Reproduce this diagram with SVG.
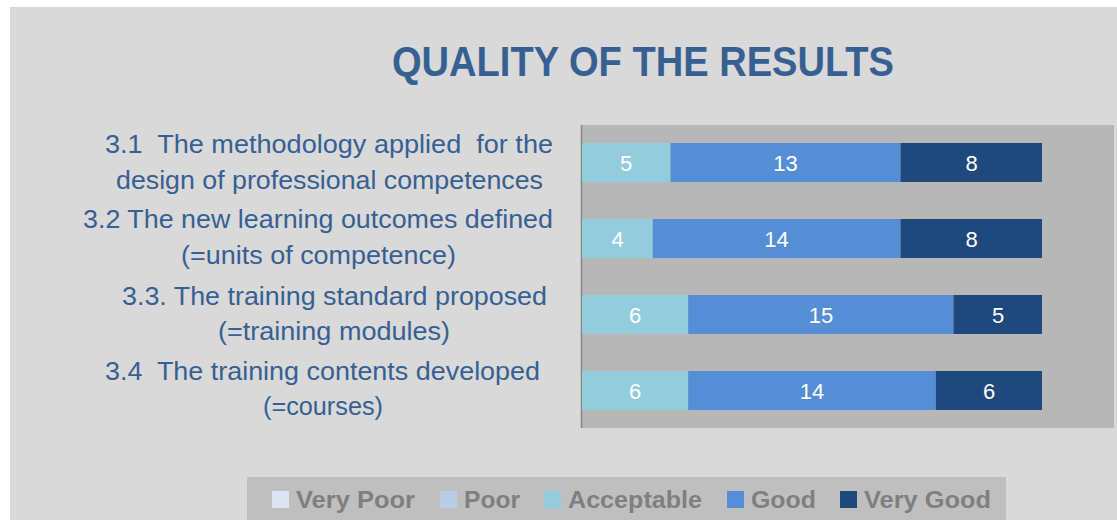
<svg xmlns="http://www.w3.org/2000/svg" width="1117" height="520" viewBox="0 0 1117 520">
<style>
.lbl{font-family:"Liberation Sans",Arial,sans-serif;font-size:25px;fill:#376092;text-anchor:middle}
.val{font-family:"Liberation Sans",Arial,sans-serif;font-size:22px;fill:#ffffff;text-anchor:middle}
.leg{font-family:"Liberation Sans",Arial,sans-serif;font-size:23px;font-weight:bold;fill:#7f7f7f}
.acc{fill:#93cddd}.good{fill:#558ed5}.vgood{fill:#1f497d}
</style>
<rect x="0" y="0" width="1117" height="520" fill="#ffffff"/>
<rect x="10" y="7" width="1107" height="513" fill="#d9d9d9"/>
<g id="title">
<text x="643" y="76" font-family="Liberation Sans,Arial,sans-serif" font-size="43" font-weight="bold" fill="#376092" text-anchor="middle" textLength="502" lengthAdjust="spacingAndGlyphs">QUALITY OF THE RESULTS</text>
</g>
<g id="labels">
<text class="lbl" x="329" y="153" textLength="448" lengthAdjust="spacingAndGlyphs" xml:space="preserve">3.1  The methodology applied  for the</text>
<text class="lbl" x="329.5" y="189" textLength="427" lengthAdjust="spacingAndGlyphs">design of professional competences</text>
<text class="lbl" x="318" y="228" textLength="470" lengthAdjust="spacingAndGlyphs">3.2 The new learning outcomes defined</text>
<text class="lbl" x="318.5" y="264" textLength="275" lengthAdjust="spacingAndGlyphs">(=units of competence)</text>
<text class="lbl" x="334.5" y="305" textLength="425" lengthAdjust="spacingAndGlyphs">3.3. The training standard proposed</text>
<text class="lbl" x="334" y="340" textLength="232" lengthAdjust="spacingAndGlyphs">(=training modules)</text>
<text class="lbl" x="322.5" y="380" textLength="435" lengthAdjust="spacingAndGlyphs" xml:space="preserve">3.4  The training contents developed</text>
<text class="lbl" x="323" y="415" textLength="120" lengthAdjust="spacingAndGlyphs">(=courses)</text>
</g>
<g id="plot">
<rect x="581" y="125" width="533" height="303" fill="#b7b7b7"/>
<line x1="581.5" y1="125" x2="581.5" y2="428" stroke="#868686" stroke-width="1.5"/>
</g>
<g id="bar-3-1">
<rect class="acc" x="582" y="143" width="88.5" height="39"/>
<rect class="good" x="670.5" y="143" width="230" height="39"/>
<rect class="vgood" x="900.5" y="143" width="141.5" height="39"/>
<text class="val" x="626" y="170.5">5</text>
<text class="val" x="785.5" y="170.5">13</text>
<text class="val" x="971.5" y="170.5">8</text>
</g>
<g id="bar-3-2">
<rect class="acc" x="582" y="219" width="70.8" height="39"/>
<rect class="good" x="652.8" y="219" width="247.7" height="39"/>
<rect class="vgood" x="900.5" y="219" width="141.5" height="39"/>
<text class="val" x="617.5" y="246.5">4</text>
<text class="val" x="776.5" y="246.5">14</text>
<text class="val" x="971.5" y="246.5">8</text>
</g>
<g id="bar-3-3">
<rect class="acc" x="582" y="295" width="106.2" height="39"/>
<rect class="good" x="688.2" y="295" width="265.3" height="39"/>
<rect class="vgood" x="953.5" y="295" width="88.5" height="39"/>
<text class="val" x="635" y="322.5">6</text>
<text class="val" x="821" y="322.5">15</text>
<text class="val" x="998" y="322.5">5</text>
</g>
<g id="bar-3-4">
<rect class="acc" x="582" y="371" width="106.2" height="39"/>
<rect class="good" x="688.2" y="371" width="247.6" height="39"/>
<rect class="vgood" x="935.8" y="371" width="106.2" height="39"/>
<text class="val" x="635" y="398.5">6</text>
<text class="val" x="812" y="398.5">14</text>
<text class="val" x="989" y="398.5">6</text>
</g>
<g id="legend">
<rect x="247" y="477" width="759" height="43" fill="#bfbfbf"/>
<rect x="272" y="491" width="17" height="17" fill="#dce6f2"/>
<text class="leg" x="296" y="508" textLength="119" lengthAdjust="spacingAndGlyphs">Very Poor</text>
<rect x="440" y="491" width="17" height="17" fill="#b9cde5"/>
<text class="leg" x="464" y="508" textLength="56" lengthAdjust="spacingAndGlyphs">Poor</text>
<rect x="544" y="491" width="17" height="17" fill="#93cddd"/>
<text class="leg" x="568" y="508" textLength="134" lengthAdjust="spacingAndGlyphs">Acceptable</text>
<rect x="727" y="491" width="17" height="17" fill="#558ed5"/>
<text class="leg" x="751" y="508" textLength="65" lengthAdjust="spacingAndGlyphs">Good</text>
<rect x="840" y="491" width="17" height="17" fill="#1f497d"/>
<text class="leg" x="864" y="508" textLength="127" lengthAdjust="spacingAndGlyphs">Very Good</text>
</g>
</svg>
